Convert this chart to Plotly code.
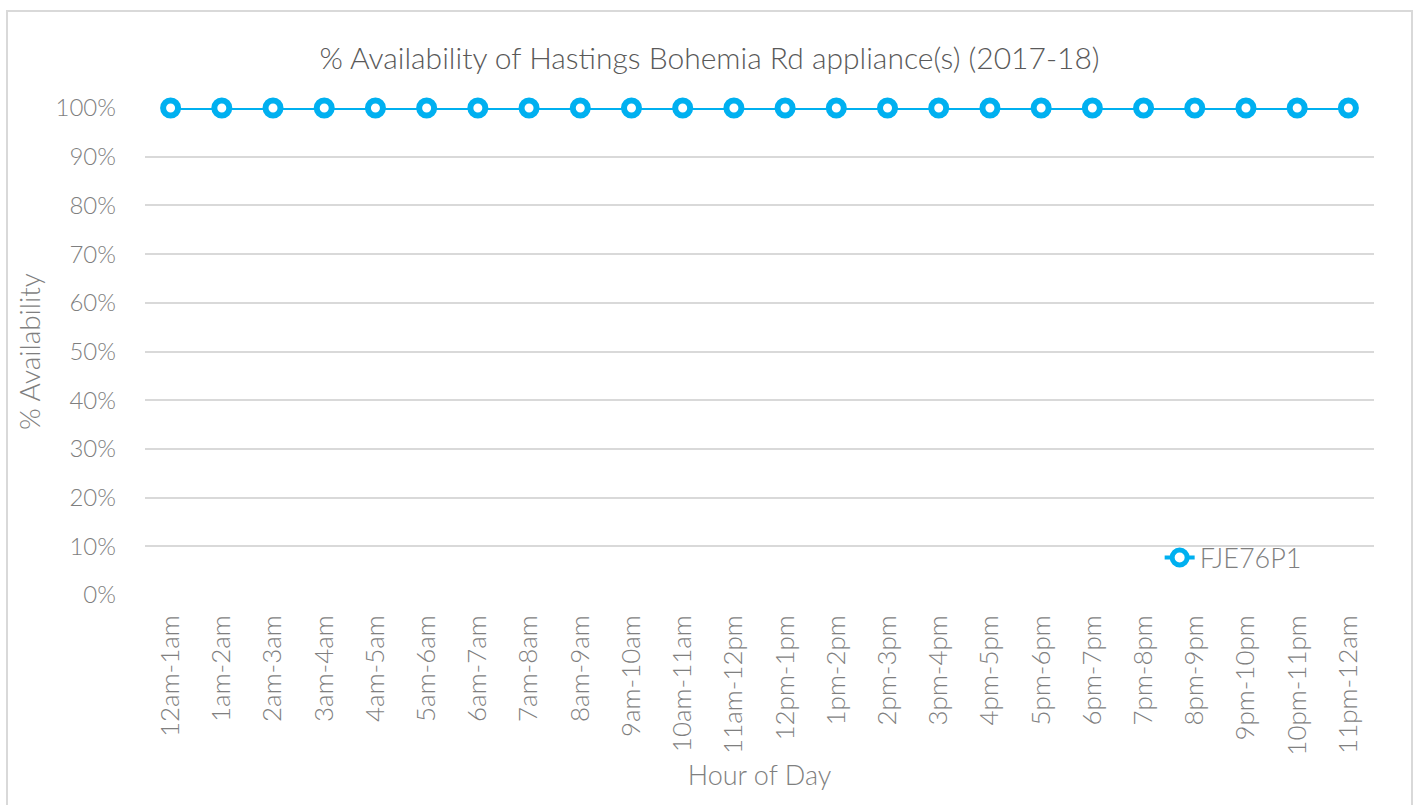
import plotly.graph_objects as go

categories = ["12am-1am", "1am-2am", "2am-3am", "3am-4am", "4am-5am", "5am-6am",
              "6am-7am", "7am-8am", "8am-9am", "9am-10am", "10am-11am", "11am-12pm",
              "12pm-1pm", "1pm-2pm", "2pm-3pm", "3pm-4pm", "4pm-5pm", "5pm-6pm",
              "6pm-7pm", "7pm-8pm", "8pm-9pm", "9pm-10pm", "10pm-11pm", "11pm-12am"]
availability = [1.0] * 24
series_name = "FJE76P1"
y_ticks = [0, 0.1, 0.2, 0.3, 0.4, 0.5, 0.6, 0.7, 0.8, 0.9, 1.0]

FONT = "Lato, Open Sans, sans-serif"
BLUE = "#00B0F0"
GREY = "#7f7f7f"

W, H = 1419, 805
L, R, T, B = 145, 45, 108, 210
PW, PH = W - L - R, H - T - B

fig = go.Figure()
fig.add_trace(go.Scatter(
    x=categories, y=availability, name=series_name, mode="lines+markers",
    line=dict(color=BLUE, width=4),
    marker=dict(symbol="circle", size=15, color="white", line=dict(color=BLUE, width=6)),
    cliponaxis=False,
))

fig.update_layout(
    width=W, height=H,
    paper_bgcolor="white", plot_bgcolor="white",
    margin=dict(l=L, r=R, t=T, b=B, autoexpand=False),
    font=dict(family=FONT, color=GREY),
    title=dict(text="% Availability of Hastings Bohemia Rd appliance(s) (2017-18)",
               x=709.5 / W, xref="container", xanchor="center", y=1 - 58 / H, yref="container", yanchor="middle",
               font=dict(size=30, color="#595959", family=FONT, weight=300)),
    showlegend=True,
    legend=dict(x=0.8256, y=0.076, xanchor="left", yanchor="middle",
                bgcolor="rgba(0,0,0,0)", font=dict(size=27, color=GREY, weight=300)),
    xaxis=dict(
        type="category", tickangle=-90, showgrid=False, ticks="", showline=False,
        automargin=False,
        tickfont=dict(size=26, color=GREY, weight=300), ticklabelstandoff=14,
        title=dict(text="Hour of Day", font=dict(size=27, color=GREY, weight=300), standoff=11),
        range=[-0.5, 23.5],
    ),
    yaxis=dict(
        range=[0, 1], tickvals=y_ticks, tickformat=".0%",
        showgrid=True, gridcolor="#d9d9d9", gridwidth=1.5,
        zeroline=False, showline=False, ticks="", automargin=False,
        tickfont=dict(size=24, color=GREY, weight=300), ticklabelstandoff=28,
        title=dict(text="% Availability", font=dict(size=28, color=GREY, weight=300), standoff=6),
    ),
)

# outer chart border (bottom edge runs past the image)
fig.add_shape(type="rect", xref="paper", yref="paper",
              x0=(7 - L) / PW, x1=(1412 - L) / PW, y0=(595 - 830) / PH, y1=(595 - 11) / PH,
              line=dict(color="#d9d9d9", width=2), fillcolor="rgba(0,0,0,0)", layer="below")

fig.write_html("out.html", config={"displayModeBar": False},
               post_script="document.body.style.margin='0';")
